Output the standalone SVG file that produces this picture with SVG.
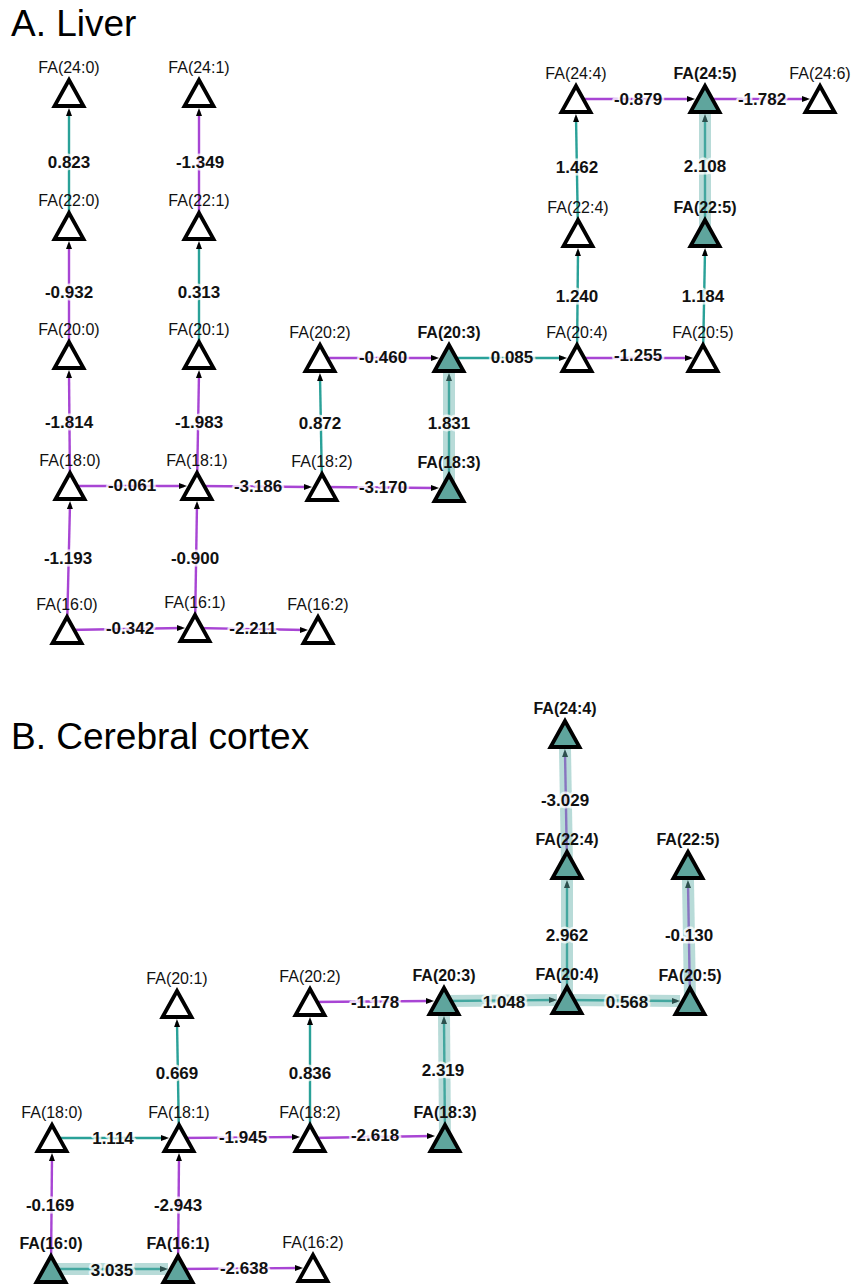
<svg xmlns="http://www.w3.org/2000/svg" xmlns:xlink="http://www.w3.org/1999/xlink" width="853" height="1286" viewBox="0 0 853 1286">
<style>
.title{font-family:"Liberation Sans",Arial,sans-serif;font-size:37px;fill:#000}
.nl{font-family:"Liberation Sans",Arial,sans-serif;font-size:16px;text-anchor:middle;fill:#111}
.nb{font-weight:bold}
.el{font-family:"Liberation Sans",Arial,sans-serif;font-size:17px;font-weight:bold;text-anchor:middle;fill:#111;stroke:#fff;stroke-opacity:0.75;stroke-width:5;paint-order:stroke;stroke-linejoin:round}
use.tn{fill:#fff;stroke:#000;stroke-width:3.8;stroke-linejoin:miter}
.sig use.tn{fill:#5fa59d}
.pos{fill:none;stroke:#2aa198;stroke-width:2.4;marker-end:url(#arr)}
.neg{fill:none;stroke:#a845d4;stroke-width:2.4;marker-end:url(#arr)}
.hl{fill:none;stroke:#62b0a8;stroke-opacity:0.45;stroke-width:12}
</style>
<defs>
<marker id="arr" markerUnits="userSpaceOnUse" markerWidth="8" markerHeight="8" viewBox="0 0 8 8" refX="5" refY="4" orient="auto"><path d="M0,1 L8,4 L0,7 Z" fill="#000"/></marker>
<path id="t" d="M0,-13 L14.5,13 L-14.5,13 Z"/>
</defs>
<rect width="853" height="1286" fill="#fff"/>
<text class="title" x="11" y="36">A. Liver</text>
<text class="title" x="11" y="749">B. Cerebral cortex</text>

<g id="connectors">
<path class="pos" d="M69,226 L69,111"/>
<path class="neg" d="M199,226 L199,111"/>
<path class="neg" d="M69,355 L69,244"/>
<path class="pos" d="M199,355 L199,244"/>
<path class="neg" d="M70,486 L69,373"/>
<path class="neg" d="M197,486 L199,373"/>
<path class="neg" d="M67,630 L70,504"/>
<path class="neg" d="M195,628 L197,504"/>
<path class="pos" d="M322,487 L320,376"/>
<path class="pos" d="M449,488 L449,376"/>
<path class="pos" d="M577,358 L578,251"/>
<path class="pos" d="M578,233 L576,117"/>
<path class="pos" d="M703,358 L705,251"/>
<path class="pos" d="M705,233 L705,117"/>
<path class="neg" d="M70,486 L184,486"/>
<path class="neg" d="M197,486 L309,487"/>
<path class="neg" d="M322,487 L436,488"/>
<path class="neg" d="M320,358 L436,358"/>
<path class="pos" d="M449,358 L564,358"/>
<path class="neg" d="M577,358 L690,358"/>
<path class="neg" d="M576,99 L692,99"/>
<path class="neg" d="M705,99 L807,99"/>
<path class="neg" d="M67,630 L182,628"/>
<path class="neg" d="M195,628 L305,630"/>
<path class="hl" d="M449,488 L449,373"/>
<path class="hl" d="M705,233 L705,114"/>
<path class="neg" d="M567,865 L565,752"/>
<path class="pos" d="M567,1000 L567,883"/>
<path class="neg" d="M690,1001 L688,883"/>
<path class="pos" d="M445,1138 L444,1019"/>
<path class="pos" d="M310,1138 L310,1020"/>
<path class="pos" d="M179,1138 L177,1022"/>
<path class="neg" d="M51,1269 L52,1156"/>
<path class="neg" d="M178,1269 L179,1156"/>
<path class="neg" d="M310,1002 L431,1001"/>
<path class="pos" d="M444,1001 L554,1000"/>
<path class="pos" d="M567,1000 L677,1001"/>
<path class="pos" d="M52,1138 L166,1138"/>
<path class="neg" d="M179,1138 L297,1137"/>
<path class="neg" d="M310,1138 L432,1136"/>
<path class="pos" d="M51,1269 L165,1269"/>
<path class="neg" d="M178,1269 L300,1268"/>
<path class="hl" d="M567,865 L565,749"/>
<path class="hl" d="M567,1000 L567,880"/>
<path class="hl" d="M690,1001 L688,880"/>
<path class="hl" d="M445,1138 L444,1016"/>
<path class="hl" d="M444,1001 L557,1000"/>
<path class="hl" d="M567,1000 L680,1001"/>
<path class="hl" d="M51,1269 L168,1269"/>
<text class="el" x="69" y="168">0.823</text>
<text class="el" x="200" y="168">-1.349</text>
<text class="el" x="69" y="298">-0.932</text>
<text class="el" x="199" y="298">0.313</text>
<text class="el" x="69" y="428">-1.814</text>
<text class="el" x="199" y="428">-1.983</text>
<text class="el" x="68" y="564">-1.193</text>
<text class="el" x="195" y="564">-0.900</text>
<text class="el" x="320" y="429">0.872</text>
<text class="el" x="449" y="429">1.831</text>
<text class="el" x="577" y="302">1.240</text>
<text class="el" x="703" y="302">1.184</text>
<text class="el" x="577" y="173">1.462</text>
<text class="el" x="705" y="172">2.108</text>
<text class="el" x="132" y="491">-0.061</text>
<text class="el" x="258" y="492">-3.186</text>
<text class="el" x="383" y="493">-3.170</text>
<text class="el" x="383" y="363">-0.460</text>
<text class="el" x="512" y="363">0.085</text>
<text class="el" x="638" y="361">-1.255</text>
<text class="el" x="638" y="105">-0.879</text>
<text class="el" x="762" y="105">-1.782</text>
<text class="el" x="130" y="634">-0.342</text>
<text class="el" x="253" y="634">-2.211</text>
<text class="el" x="565" y="806">-3.029</text>
<text class="el" x="567" y="941">2.962</text>
<text class="el" x="689" y="941">-0.130</text>
<text class="el" x="177" y="1079">0.669</text>
<text class="el" x="310" y="1079">0.836</text>
<text class="el" x="443" y="1076">2.319</text>
<text class="el" x="375" y="1008">-1.178</text>
<text class="el" x="504" y="1008">1.048</text>
<text class="el" x="627" y="1008">0.568</text>
<text class="el" x="113" y="1144">1.114</text>
<text class="el" x="243" y="1143">-1.945</text>
<text class="el" x="375" y="1141">-2.618</text>
<text class="el" x="50" y="1211">-0.169</text>
<text class="el" x="178" y="1211">-2.943</text>
<text class="el" x="112" y="1276">3.035</text>
<text class="el" x="244" y="1274">-2.638</text>
</g>

<g id="A-FA24-0" transform="translate(69,93)"><text class="nl" y="-20">FA(24:0)</text><use class="tn" href="#t"/></g>
<g id="A-FA24-1" transform="translate(199,93)"><text class="nl" y="-20">FA(24:1)</text><use class="tn" href="#t"/></g>
<g id="A-FA22-0" transform="translate(69,226)"><text class="nl" y="-20">FA(22:0)</text><use class="tn" href="#t"/></g>
<g id="A-FA22-1" transform="translate(199,226)"><text class="nl" y="-20">FA(22:1)</text><use class="tn" href="#t"/></g>
<g id="A-FA20-0" transform="translate(69,355)"><text class="nl" y="-20">FA(20:0)</text><use class="tn" href="#t"/></g>
<g id="A-FA20-1" transform="translate(199,355)"><text class="nl" y="-20">FA(20:1)</text><use class="tn" href="#t"/></g>
<g id="A-FA20-2" transform="translate(320,358)"><text class="nl" y="-20">FA(20:2)</text><use class="tn" href="#t"/></g>
<g id="A-FA20-3" class="sig" transform="translate(449,358)"><text class="nl nb" y="-20">FA(20:3)</text><use class="tn" href="#t"/></g>
<g id="A-FA20-4" transform="translate(577,358)"><text class="nl" y="-20">FA(20:4)</text><use class="tn" href="#t"/></g>
<g id="A-FA20-5" transform="translate(703,358)"><text class="nl" y="-20">FA(20:5)</text><use class="tn" href="#t"/></g>
<g id="A-FA22-4" transform="translate(578,233)"><text class="nl" y="-20">FA(22:4)</text><use class="tn" href="#t"/></g>
<g id="A-FA22-5" class="sig" transform="translate(705,233)"><text class="nl nb" y="-20">FA(22:5)</text><use class="tn" href="#t"/></g>
<g id="A-FA24-4" transform="translate(576,99)"><text class="nl" y="-20">FA(24:4)</text><use class="tn" href="#t"/></g>
<g id="A-FA24-5" class="sig" transform="translate(705,99)"><text class="nl nb" y="-20">FA(24:5)</text><use class="tn" href="#t"/></g>
<g id="A-FA24-6" transform="translate(820,99)"><text class="nl" y="-20">FA(24:6)</text><use class="tn" href="#t"/></g>
<g id="A-FA18-0" transform="translate(70,486)"><text class="nl" y="-20">FA(18:0)</text><use class="tn" href="#t"/></g>
<g id="A-FA18-1" transform="translate(197,486)"><text class="nl" y="-20">FA(18:1)</text><use class="tn" href="#t"/></g>
<g id="A-FA18-2" transform="translate(322,487)"><text class="nl" y="-20">FA(18:2)</text><use class="tn" href="#t"/></g>
<g id="A-FA18-3" class="sig" transform="translate(449,488)"><text class="nl nb" y="-20">FA(18:3)</text><use class="tn" href="#t"/></g>
<g id="A-FA16-0" transform="translate(67,630)"><text class="nl" y="-20">FA(16:0)</text><use class="tn" href="#t"/></g>
<g id="A-FA16-1" transform="translate(195,628)"><text class="nl" y="-20">FA(16:1)</text><use class="tn" href="#t"/></g>
<g id="A-FA16-2" transform="translate(318,630)"><text class="nl" y="-20">FA(16:2)</text><use class="tn" href="#t"/></g>

<g id="B-FA24-4" class="sig" transform="translate(565,734)"><text class="nl nb" y="-20">FA(24:4)</text><use class="tn" href="#t"/></g>
<g id="B-FA22-4" class="sig" transform="translate(567,865)"><text class="nl nb" y="-20">FA(22:4)</text><use class="tn" href="#t"/></g>
<g id="B-FA22-5" class="sig" transform="translate(688,865)"><text class="nl nb" y="-20">FA(22:5)</text><use class="tn" href="#t"/></g>
<g id="B-FA20-4" class="sig" transform="translate(567,1000)"><text class="nl nb" y="-20">FA(20:4)</text><use class="tn" href="#t"/></g>
<g id="B-FA20-5" class="sig" transform="translate(690,1001)"><text class="nl nb" y="-20">FA(20:5)</text><use class="tn" href="#t"/></g>
<g id="B-FA20-3" class="sig" transform="translate(444,1001)"><text class="nl nb" y="-20">FA(20:3)</text><use class="tn" href="#t"/></g>
<g id="B-FA20-2" transform="translate(310,1002)"><text class="nl" y="-20">FA(20:2)</text><use class="tn" href="#t"/></g>
<g id="B-FA20-1" transform="translate(177,1004)"><text class="nl" y="-20">FA(20:1)</text><use class="tn" href="#t"/></g>
<g id="B-FA18-0" transform="translate(52,1138)"><text class="nl" y="-20">FA(18:0)</text><use class="tn" href="#t"/></g>
<g id="B-FA18-1" transform="translate(179,1138)"><text class="nl" y="-20">FA(18:1)</text><use class="tn" href="#t"/></g>
<g id="B-FA18-2" transform="translate(310,1138)"><text class="nl" y="-20">FA(18:2)</text><use class="tn" href="#t"/></g>
<g id="B-FA18-3" class="sig" transform="translate(445,1138)"><text class="nl nb" y="-20">FA(18:3)</text><use class="tn" href="#t"/></g>
<g id="B-FA16-0" class="sig" transform="translate(51,1269)"><text class="nl nb" y="-20">FA(16:0)</text><use class="tn" href="#t"/></g>
<g id="B-FA16-1" class="sig" transform="translate(178,1269)"><text class="nl nb" y="-20">FA(16:1)</text><use class="tn" href="#t"/></g>
<g id="B-FA16-2" transform="translate(313,1268)"><text class="nl" y="-20">FA(16:2)</text><use class="tn" href="#t"/></g>
</svg>
